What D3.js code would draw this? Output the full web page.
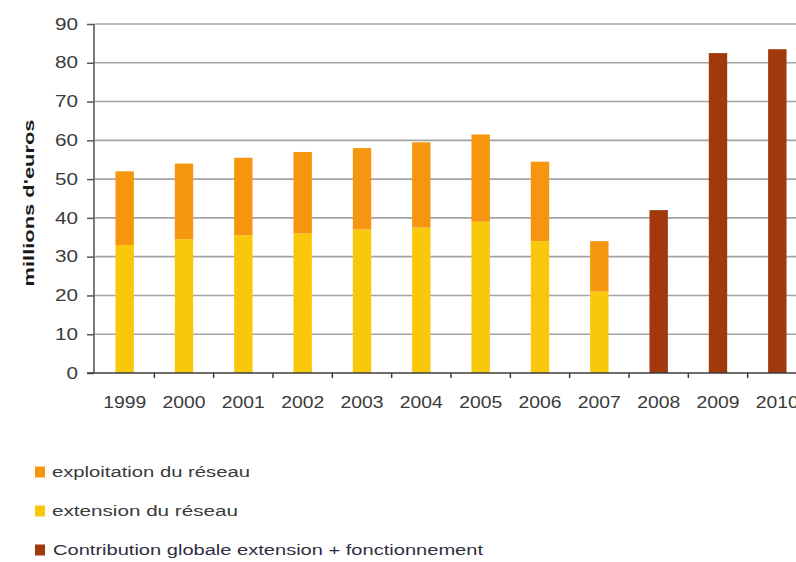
<!DOCTYPE html>
<html>
<head>
<meta charset="utf-8">
<script src="https://cdn.jsdelivr.net/npm/d3@7"></script>
<style>
  html, body { margin: 0; padding: 0; background: #fff; }
  svg { display: block; font-family: Arial, "Liberation Sans", sans-serif; }
</style>
</head>
<body>
<svg id="chart" width="796" height="562"></svg>
<script>
// Categories (years)
const years = ["1999","2000","2001","2002","2003","2004","2005","2006","2007","2008","2009","2010"];
// Extension du réseau (millions d'euros)
const extension = [33, 34.5, 35.5, 36, 37, 37.5, 39, 34, 21, 0, 0, 0];
// Exploitation du réseau (millions d'euros)
const exploitation = [19, 19.5, 20, 21, 21, 22, 22.5, 20.5, 13, 0, 0, 0];
// Contribution globale extension + fonctionnement (millions d'euros)
const contribution = [0, 0, 0, 0, 0, 0, 0, 0, 0, 42, 82.5, 83.5];
// Y axis ticks
const yTicks = [0, 10, 20, 30, 40, 50, 60, 70, 80, 90];

const seriesKeys = ["extension", "exploitation", "contribution"];
const seriesLabels = {
  exploitation: "exploitation du réseau",
  extension: "extension du réseau",
  contribution: "Contribution globale extension + fonctionnement"
};
const colors = {
  extension: "#FAC80A",
  exploitation: "#F6960E",
  contribution: "#A0390B"
};

const rows = years.map((y, i) => ({
  year: y,
  extension: extension[i],
  exploitation: exploitation[i],
  contribution: contribution[i]
}));

const svg = d3.select("#chart");
const plotLeft = 95, plotRight = 807, plotTop = 24, plotBottom = 373;

const x = d3.scaleBand()
  .domain(years)
  .range([plotLeft, plotRight])
  .paddingInner(0.69)
  .paddingOuter(0.345);
const step = x.step();

const y = d3.scaleLinear().domain([0, 90]).range([plotBottom, plotTop]);

// Horizontal gridlines
svg.append("g")
  .selectAll("line")
  .data(yTicks.filter(t => t > 0))
  .join("line")
  .attr("x1", plotLeft).attr("x2", 796)
  .attr("y1", d => y(d)).attr("y2", d => y(d))
  .attr("stroke", "#a3a3a3")
  .attr("stroke-width", 1.6);

// Stacked bars
const stack = d3.stack().keys(seriesKeys);
const stacked = stack(rows);

svg.append("g")
  .selectAll("g")
  .data(stacked)
  .join("g")
  .attr("fill", d => colors[d.key])
  .selectAll("rect")
  .data(d => d.filter(p => p[1] - p[0] > 0))
  .join("rect")
  .attr("x", d => x(d.data.year))
  .attr("width", x.bandwidth())
  .attr("y", d => y(d[1]))
  .attr("height", d => y(d[0]) - y(d[1]));

// Y axis
const yAxis = svg.append("g")
  .attr("transform", `translate(${plotLeft - 1},0)`)
  .call(d3.axisLeft(y).tickValues(yTicks).tickSize(7).tickPadding(9));
yAxis.select(".domain").attr("stroke", "#7a7a7a").attr("stroke-width", 2)
  .attr("d", `M0,${plotTop}V${plotBottom}`);
yAxis.selectAll(".tick line").attr("stroke", "#555").attr("stroke-width", 1.5);
yAxis.selectAll(".tick text")
  .attr("fill", "#3a3a3a")
  .attr("font-size", 16)
  .attr("textLength", d => String(d).length * 11.5)
  .attr("lengthAdjust", "spacingAndGlyphs");

// X axis with ticks at category boundaries
const xAxisG = svg.append("g").attr("transform", `translate(0,${plotBottom})`);
xAxisG.append("line")
  .attr("x1", plotLeft - 8).attr("x2", 796)
  .attr("y1", 0).attr("y2", 0)
  .attr("stroke", "#3c3c3c").attr("stroke-width", 1.6);
xAxisG.selectAll(".bnd")
  .data(years.slice(1))
  .join("line")
  .attr("class", "bnd")
  .attr("x1", d => x(d) - step * 0.345).attr("x2", d => x(d) - step * 0.345)
  .attr("y1", 0).attr("y2", 5)
  .attr("stroke", "#3c3c3c").attr("stroke-width", 1.5);
xAxisG.selectAll(".lbl")
  .data(years)
  .join("text")
  .attr("class", "lbl")
  .attr("x", d => x(d) + x.bandwidth() / 2)
  .attr("y", 35)
  .attr("text-anchor", "middle")
  .attr("font-size", 16.5)
  .attr("fill", "#3a3a3a")
  .attr("textLength", 43)
  .attr("lengthAdjust", "spacingAndGlyphs")
  .text(d => d);

// Y axis title
svg.append("text")
  .attr("transform", "translate(34,203) rotate(-90)")
  .attr("text-anchor", "middle")
  .attr("font-size", 15)
  .attr("font-weight", "bold")
  .attr("fill", "#1a1a1a")
  .attr("textLength", 167)
  .attr("lengthAdjust", "spacingAndGlyphs")
  .text("millions d'euros");

// Legend
const legendItems = [
  { key: "exploitation", cy: 472, w: 198, tx: 52 },
  { key: "extension", cy: 511, w: 186, tx: 52 },
  { key: "contribution", cy: 550, w: 430, tx: 53 }
];
const lg = svg.append("g")
  .selectAll("g")
  .data(legendItems)
  .join("g");
lg.append("rect")
  .attr("x", 35).attr("y", d => d.cy - 5.5)
  .attr("width", 10).attr("height", 11)
  .attr("fill", d => colors[d.key]);
lg.append("text")
  .attr("x", d => d.tx).attr("y", d => d.cy)
  .attr("dy", "0.35em")
  .attr("font-size", 15.5)
  .attr("fill", d => d.key === "contribution" ? "#2e2e40" : "#3a3a3a")
  .attr("textLength", d => d.w)
  .attr("lengthAdjust", "spacingAndGlyphs")
  .text(d => seriesLabels[d.key]);
</script>
</body>
</html>
